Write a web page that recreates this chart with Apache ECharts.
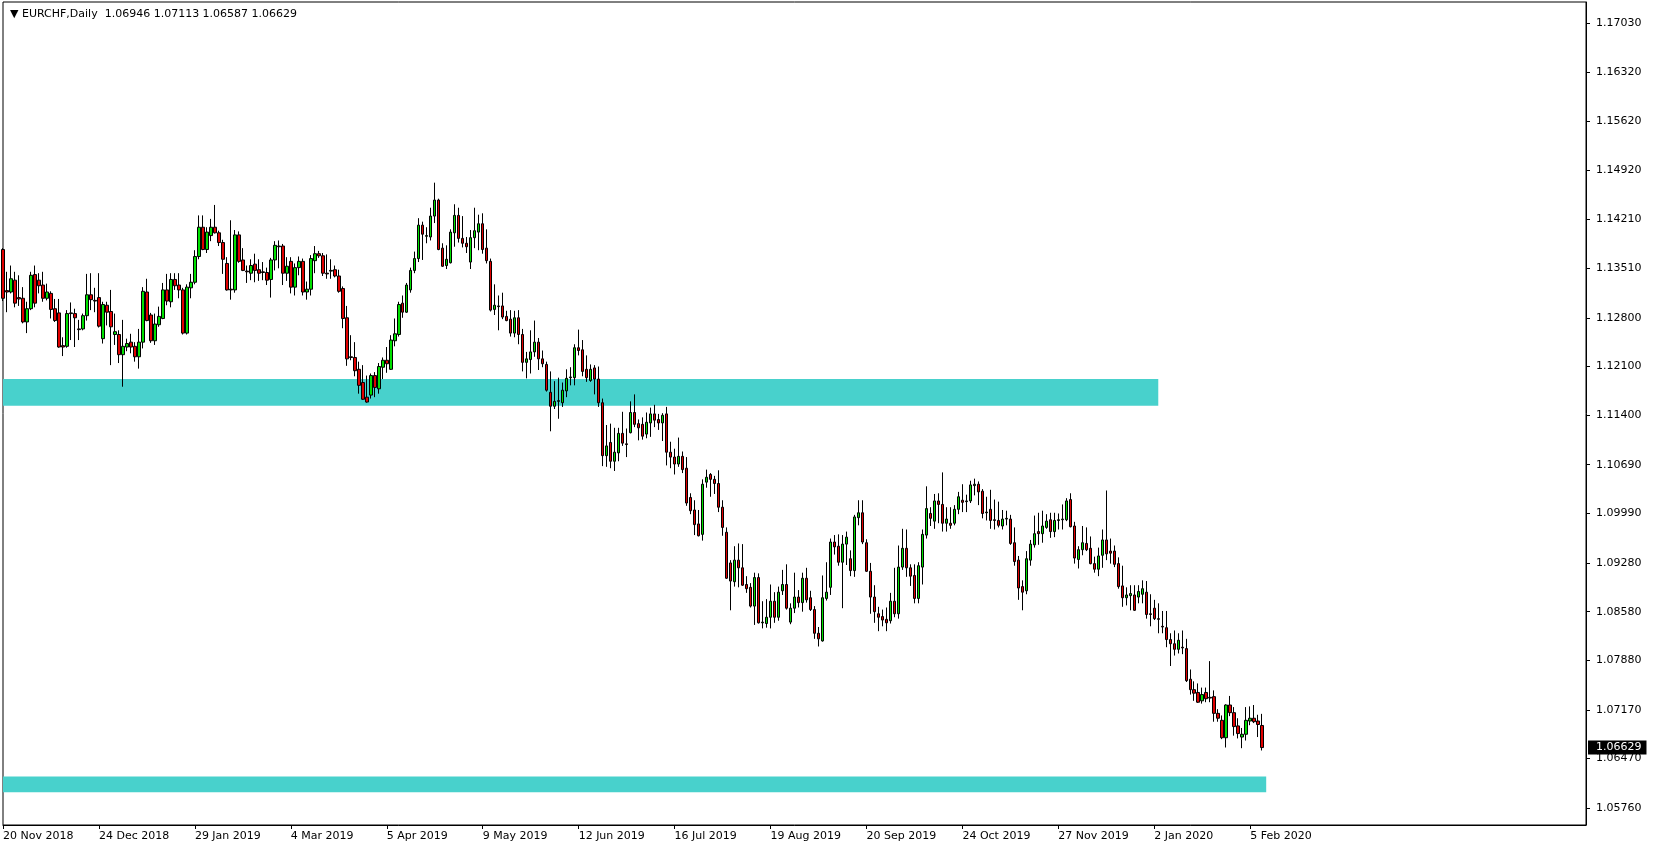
<!DOCTYPE html>
<html>
<head>
<meta charset="utf-8">
<script src="https://cdn.jsdelivr.net/npm/echarts@6/dist/echarts.min.js"></script>
<style>
  html, body { margin: 0; padding: 0; background: #fff; }
  #chart { width: 1654px; height: 850px; }
</style>
</head>
<body>
<div id="chart"></div>
<script>
const symbol = 'EURCHF,Daily'
const firstDate = '2018-11-20'
const holidays = ['2018-12-25', '2019-01-01', '2019-12-25', '2020-01-01']
const slotCount = 397 // bar slots across the window, empty ones on the right
const labelEvery = 24
const yMin = 1.05517
const yMax = 1.17334
const yTicks = [1.05760, 1.06470, 1.07170, 1.07880, 1.08580, 1.09280, 1.09990, 1.10690,
  1.11400, 1.12100, 1.12800, 1.13510, 1.14210, 1.14920, 1.15620, 1.16320, 1.17030]
// rectangles drawn on the chart: [low, high] and the day they stop
const zoneUpper = [1.11538, 1.11921]
const zoneUpperEnd = '2020-01-03'
const zoneLower = [1.05986, 1.06215]
const zoneLowerEnd = '2020-02-11'

// open, close, low, high
const ohlc = [
[1.1378,1.1308,1.1304,1.1380],[1.1319,1.1317,1.1288,1.1346],[1.1317,1.1336,1.1315,1.1355],[1.1334,1.1301,1.1295,1.1346],
[1.1309,1.1307,1.1297,1.1341],[1.1308,1.1274,1.1272,1.1324],[1.1274,1.1293,1.1258,1.1303],[1.1293,1.1341,1.1291,1.1346],
[1.1342,1.1301,1.1295,1.1355],[1.1334,1.1326,1.1315,1.1344],[1.1327,1.1308,1.1303,1.1346],[1.1308,1.1317,1.1305,1.1329],
[1.1315,1.1292,1.1279,1.1318],[1.1293,1.1276,1.1274,1.1307],[1.1287,1.1238,1.1237,1.1307],[1.1240,1.1238,1.1225,1.1252],
[1.1239,1.1286,1.1237,1.1291],[1.1286,1.1287,1.1248,1.1302],[1.1286,1.1280,1.1238,1.1293],[1.1264,1.1263,1.1248,1.1277],
[1.1264,1.1283,1.1262,1.1286],[1.1283,1.1313,1.1276,1.1343],[1.1313,1.1306,1.1291,1.1344],[1.1305,1.1304,1.1288,1.1323],
// 24 Dec 2018
[1.1309,1.1268,1.1266,1.1344],[1.1250,1.1299,1.1243,1.1303],[1.1298,1.1288,1.1269,1.1303],[1.1289,1.1267,1.1212,1.1320],
[1.1256,1.1260,1.1241,1.1286],[1.1256,1.1227,1.1215,1.1262],[1.1227,1.1239,1.1181,1.1277],[1.1238,1.1243,1.1232,1.1250],
[1.1245,1.1238,1.1229,1.1257],[1.1239,1.1224,1.1217,1.1245],[1.1224,1.1245,1.1207,1.1264],[1.1245,1.1318,1.1236,1.1324],
[1.1317,1.1276,1.1275,1.1336],[1.1284,1.1247,1.1244,1.1287],[1.1247,1.1271,1.1241,1.1286],[1.1270,1.1282,1.1267,1.1296],
[1.1279,1.1320,1.1278,1.1330],[1.1320,1.1304,1.1298,1.1343],[1.1303,1.1335,1.1295,1.1344],[1.1335,1.1326,1.1320,1.1344],
[1.1327,1.1320,1.1308,1.1344],[1.1320,1.1258,1.1256,1.1323],[1.1258,1.1324,1.1256,1.1328],[1.1323,1.1331,1.1308,1.1343],
// 29 Jan 2019
[1.1331,1.1368,1.1328,1.1377],[1.1368,1.1410,1.1364,1.1427],[1.1410,1.1378,1.1377,1.1427],[1.1378,1.1403,1.1373,1.1410],
[1.1398,1.1410,1.1390,1.1422],[1.1410,1.1402,1.1401,1.1442],[1.1402,1.1388,1.1383,1.1405],[1.1388,1.1364,1.1343,1.1392],
[1.1358,1.1320,1.1319,1.1367],[1.1321,1.1320,1.1306,1.1420],[1.1320,1.1399,1.1316,1.1406],[1.1399,1.1361,1.1359,1.1404],
[1.1363,1.1348,1.1347,1.1380],[1.1347,1.1346,1.1330,1.1355],[1.1344,1.1355,1.1334,1.1364],[1.1357,1.1348,1.1331,1.1372],
[1.1349,1.1344,1.1333,1.1364],[1.1346,1.1345,1.1334,1.1360],[1.1345,1.1334,1.1327,1.1352],[1.1335,1.1363,1.1309,1.1366],
[1.1363,1.1384,1.1348,1.1390],[1.1383,1.1382,1.1351,1.1391],[1.1383,1.1344,1.1327,1.1386],[1.1344,1.1354,1.1333,1.1367],
// 4 Mar 2019
[1.1361,1.1324,1.1315,1.1367],[1.1324,1.1352,1.1312,1.1358],[1.1352,1.1361,1.1341,1.1368],[1.1361,1.1317,1.1312,1.1365],
[1.1317,1.1321,1.1306,1.1332],[1.1321,1.1365,1.1312,1.1370],[1.1362,1.1372,1.1344,1.1383],[1.1372,1.1369,1.1366,1.1376],
[1.1369,1.1344,1.1340,1.1373],[1.1344,1.1343,1.1336,1.1371],[1.1347,1.1348,1.1336,1.1364],[1.1349,1.1340,1.1338,1.1355],
[1.1340,1.1318,1.1316,1.1349],[1.1322,1.1279,1.1265,1.1325],[1.1280,1.1221,1.1211,1.1297],[1.1224,1.1223,1.1219,1.1255],
[1.1223,1.1204,1.1196,1.1245],[1.1206,1.1183,1.1171,1.1217],[1.1187,1.1163,1.1162,1.1212],[1.1166,1.1159,1.1158,1.1197],
[1.1169,1.1197,1.1164,1.1200],[1.1197,1.1180,1.1166,1.1202],[1.1178,1.1210,1.1171,1.1215],[1.1209,1.1219,1.1192,1.1223],
// 5 Apr 2019
[1.1219,1.1214,1.1201,1.1238],[1.1206,1.1248,1.1205,1.1255],[1.1247,1.1257,1.1239,1.1279],[1.1256,1.1299,1.1253,1.1303],
[1.1301,1.1288,1.1280,1.1312],[1.1288,1.1327,1.1287,1.1330],[1.1320,1.1348,1.1316,1.1352],[1.1348,1.1365,1.1344,1.1375],
[1.1365,1.1413,1.1360,1.1423],[1.1413,1.1400,1.1363,1.1418],[1.1397,1.1398,1.1387,1.1410],[1.1396,1.1426,1.1391,1.1438],
[1.1426,1.1449,1.1416,1.1474],[1.1449,1.1378,1.1377,1.1451],[1.1380,1.1354,1.1353,1.1387],[1.1355,1.1364,1.1350,1.1384],
[1.1359,1.1403,1.1358,1.1407],[1.1402,1.1427,1.1382,1.1443],[1.1427,1.1394,1.1388,1.1438],[1.1394,1.1387,1.1381,1.1426],
[1.1387,1.1382,1.1373,1.1396],[1.1360,1.1395,1.1350,1.1406],[1.1395,1.1405,1.1380,1.1438],[1.1403,1.1415,1.1377,1.1428],
// 9 May 2019
[1.1415,1.1378,1.1372,1.1430],[1.1380,1.1362,1.1358,1.1407],[1.1361,1.1291,1.1289,1.1365],[1.1292,1.1298,1.1284,1.1328],
[1.1297,1.1296,1.1262,1.1312],[1.1297,1.1281,1.1278,1.1316],[1.1282,1.1276,1.1275,1.1290],[1.1278,1.1258,1.1253,1.1291],
[1.1258,1.1280,1.1252,1.1290],[1.1280,1.1256,1.1242,1.1291],[1.1256,1.1216,1.1203,1.1264],[1.1216,1.1221,1.1193,1.1231],
[1.1220,1.1231,1.1200,1.1262],[1.1231,1.1245,1.1224,1.1276],[1.1245,1.1221,1.1205,1.1251],[1.1221,1.1214,1.1209,1.1233],
[1.1213,1.1176,1.1174,1.1217],[1.1173,1.1153,1.1117,1.1203],[1.1153,1.1160,1.1149,1.1189],[1.1160,1.1161,1.1135,1.1194],
[1.1158,1.1176,1.1152,1.1187],[1.1175,1.1193,1.1166,1.1206],[1.1194,1.1195,1.1183,1.1209],[1.1194,1.1237,1.1183,1.1242],
// 12 Jun 2019
[1.1237,1.1233,1.1226,1.1263],[1.1234,1.1203,1.1196,1.1248],[1.1206,1.1194,1.1188,1.1226],[1.1190,1.1206,1.1188,1.1213],
[1.1208,1.1192,1.1170,1.1212],[1.1192,1.1158,1.1152,1.1210],[1.1158,1.1082,1.1067,1.1164],[1.1082,1.1096,1.1066,1.1126],
[1.1101,1.1074,1.1064,1.1128],[1.1074,1.1087,1.1060,1.1122],[1.1086,1.1114,1.1074,1.1122],[1.1114,1.1100,1.1096,1.1145],
[1.1099,1.1098,1.1080,1.1121],[1.1115,1.1144,1.1114,1.1160],[1.1144,1.1127,1.1123,1.1170],[1.1128,1.1122,1.1104,1.1134],
[1.1127,1.1110,1.1105,1.1137],[1.1113,1.1130,1.1107,1.1144],[1.1129,1.1142,1.1109,1.1151],[1.1142,1.1133,1.1123,1.1155],
[1.1134,1.1129,1.1119,1.1142],[1.1129,1.1140,1.1103,1.1143],[1.1142,1.1087,1.1068,1.1152],[1.1087,1.1080,1.1064,1.1102],
// 16 Jul 2019
[1.1080,1.1070,1.1055,1.1092],[1.1070,1.1081,1.1066,1.1108],[1.1081,1.1062,1.1057,1.1088],[1.1064,1.1014,1.1010,1.1080],
[1.1022,1.1003,1.0998,1.1028],[1.1004,1.0983,1.0968,1.1018],[1.0984,1.0967,1.0966,1.1004],[1.0969,1.1041,1.0960,1.1048],
[1.1044,1.1051,1.1036,1.1062],[1.1055,1.1048,1.1023,1.1057],[1.1048,1.1042,1.1027,1.1053],[1.1042,1.1008,1.1001,1.1061],
[1.1008,1.0979,1.0967,1.1018],[1.0972,1.0906,1.0905,1.0979],[1.0928,1.0902,1.0860,1.0932],[1.0901,1.0932,1.0894,1.0952],
[1.0932,1.0921,1.0893,1.0956],[1.0921,1.0896,1.0895,1.0955],[1.0897,1.0891,1.0885,1.0909],[1.0893,1.0866,1.0864,1.0899],
[1.0866,1.0907,1.0839,1.0914],[1.0907,1.0842,1.0841,1.0913],[1.0842,1.0843,1.0834,1.0873],[1.0841,1.0850,1.0835,1.0876],
// 19 Aug 2019
[1.0850,1.0873,1.0834,1.0897],[1.0873,1.0850,1.0842,1.0886],[1.0850,1.0886,1.0845,1.0894],[1.0888,1.0897,1.0882,1.0918],
[1.0897,1.0863,1.0861,1.0926],[1.0843,1.0863,1.0840,1.0870],[1.0863,1.0879,1.0856,1.0914],[1.0879,1.0871,1.0864,1.0889],
[1.0871,1.0906,1.0858,1.0914],[1.0906,1.0875,1.0871,1.0921],[1.0878,1.0861,1.0859,1.0888],[1.0861,1.0827,1.0819,1.0866],
[1.0827,1.0819,1.0808,1.0836],[1.0816,1.0878,1.0815,1.0910],[1.0877,1.0886,1.0874,1.0929],[1.0893,1.0958,1.0882,1.0963],
[1.0958,1.0951,1.0940,1.0968],[1.0952,1.0929,1.0924,1.0969],[1.0929,1.0955,1.0863,1.0968],[1.0955,1.0965,1.0925,1.0973],
[1.0934,1.0917,1.0909,1.0946],[1.0917,1.0994,1.0908,1.0997],[1.0993,1.1000,1.0982,1.1018],[1.1000,1.0958,1.0955,1.1018],
// 20 Sep 2019
[1.0957,1.0916,1.0915,1.0962],[1.0916,1.0879,1.0855,1.0928],[1.0879,1.0858,1.0842,1.0896],[1.0855,1.0850,1.0830,1.0865],
[1.0851,1.0846,1.0837,1.0861],[1.0847,1.0842,1.0830,1.0864],[1.0845,1.0873,1.0841,1.0885],[1.0873,1.0855,1.0850,1.0921],
[1.0855,1.0922,1.0848,1.0953],[1.0922,1.0949,1.0918,1.0977],[1.0949,1.0921,1.0908,1.0976],[1.0921,1.0909,1.0895,1.0926],
[1.0910,1.0877,1.0870,1.0926],[1.0877,1.0924,1.0870,1.0929],[1.0922,1.0969,1.0897,1.0976],[1.0968,1.1006,1.0963,1.1038],
[1.0999,1.0992,1.0981,1.1008],[1.0988,1.1017,1.0977,1.1027],[1.1017,1.1012,1.0985,1.1028],[1.1012,1.0985,1.0973,1.1058],
[1.0985,1.0991,1.0973,1.1008],[1.0985,1.0982,1.0977,1.1008],[1.0985,1.1005,1.0982,1.1011],[1.1005,1.1023,1.0998,1.1030],
// 24 Oct 2019
[1.1018,1.1015,1.1001,1.1041],[1.1016,1.1017,1.1001,1.1026],[1.1017,1.1040,1.1014,1.1046],[1.1039,1.1041,1.1025,1.1049],
[1.1041,1.1030,1.1011,1.1045],[1.1031,1.0999,1.0992,1.1034],[1.1000,1.1001,1.0989,1.1023],[1.1005,1.0989,1.0977,1.1033],
[1.0990,1.0989,1.0976,1.1019],[1.0989,1.0982,1.0979,1.1016],[1.0981,1.0991,1.0976,1.1004],[1.0991,1.0992,1.0982,1.1003],
[1.0991,1.0956,1.0954,1.0997],[1.0957,1.0930,1.0924,1.0979],[1.0932,1.0892,1.0875,1.0938],[1.0894,1.0886,1.0860,1.0903],
[1.0888,1.0934,1.0883,1.0945],[1.0932,1.0955,1.0924,1.0961],[1.0954,1.0970,1.0950,1.0996],[1.0973,1.0970,1.0954,1.1000],
[1.0970,1.0981,1.0957,1.1003],[1.0979,1.0988,1.0977,1.0998],[1.0990,1.0973,1.0964,1.1000],[1.0973,1.0989,1.0965,1.1000],
// 27 Nov 2019
[1.0989,1.0990,1.0976,1.0999],[1.0990,1.0991,1.0976,1.1012],[1.0990,1.1017,1.0988,1.1021],[1.1019,1.0980,1.0979,1.1028],
[1.0981,1.0935,1.0927,1.0987],[1.0933,1.0947,1.0920,1.0952],[1.0947,1.0957,1.0939,1.0981],[1.0956,1.0947,1.0945,1.0979],
[1.0949,1.0927,1.0926,1.0966],[1.0927,1.0919,1.0914,1.0937],[1.0919,1.0938,1.0909,1.0950],[1.0939,1.0961,1.0921,1.0976],
[1.0961,1.0941,1.0932,1.1032],[1.0945,1.0942,1.0927,1.0963],[1.0945,1.0926,1.0922,1.0953],[1.0927,1.0894,1.0891,1.0936],
[1.0895,1.0878,1.0865,1.0924],[1.0878,1.0882,1.0867,1.0893],[1.0881,1.0884,1.0860,1.0896],[1.0882,1.0860,1.0859,1.0896],
[1.0879,1.0887,1.0870,1.0896],[1.0883,1.0891,1.0870,1.0903],[1.0886,1.0854,1.0848,1.0902],[1.0855,1.0854,1.0837,1.0883],
// 2 Jan 2020
[1.0863,1.0848,1.0846,1.0875],[1.0848,1.0847,1.0827,1.0870],[1.0837,1.0836,1.0827,1.0859],[1.0835,1.0818,1.0807,1.0859],
[1.0818,1.0812,1.0780,1.0827],[1.0812,1.0804,1.0795,1.0831],[1.0804,1.0817,1.0798,1.0827],[1.0807,1.0806,1.0797,1.0831],
[1.0805,1.0759,1.0757,1.0819],[1.0761,1.0746,1.0739,1.0775],[1.0746,1.0741,1.0730,1.0758],[1.0742,1.0728,1.0727,1.0755],
[1.0730,1.0739,1.0726,1.0749],[1.0742,1.0733,1.0728,1.0749],[1.0735,1.0734,1.0728,1.0787],[1.0736,1.0712,1.0700,1.0745],
[1.0712,1.0705,1.0700,1.0718],[1.0702,1.0677,1.0675,1.0709],[1.0677,1.0724,1.0663,1.0725],[1.0724,1.0713,1.0708,1.0737],
[1.0713,1.0693,1.0680,1.0721],[1.0694,1.0683,1.0676,1.0705],[1.0678,1.0682,1.0662,1.0691],[1.0682,1.0702,1.0673,1.0721],
// 5 Feb 2020
[1.0701,1.0705,1.0695,1.0722],[1.0705,1.0700,1.0698,1.0724],[1.0701,1.0696,1.0678,1.0710],[1.06946,1.06629,1.06587,1.07113]
]

const font = 'DejaVu Sans'
const months = ['Jan','Feb','Mar','Apr','May','Jun','Jul','Aug','Sep','Oct','Nov','Dec']

function tradingDays(start, n) {
  const out = []
  const d = new Date(start + 'T00:00:00Z')
  while (out.length < n) {
    const iso = d.toISOString().slice(0, 10)
    const wd = d.getUTCDay()
    if (wd !== 0 && wd !== 6 && !holidays.includes(iso)) out.push(iso)
    d.setUTCDate(d.getUTCDate() + 1)
  }
  return out
}
function fmtDate(iso) {
  const [y, m, d] = iso.split('-')
  return +d + ' ' + months[+m - 1] + ' ' + y
}

const dates = tradingDays(firstDate, slotCount)
const last = ohlc[ohlc.length - 1]
const showLabel = (i) => i % labelEvery === 0 && i < ohlc.length
const p5 = (v) => v.toFixed(5)

const chart = echarts.init(document.getElementById('chart'))
chart.setOption({
  animation: false,
  backgroundColor: '#fff',
  title: {
    text: '▼ ' + symbol + '  ' + [last[0], last[3], last[2], last[1]].map(p5).join(' '),
    left: 5, top: 4,
    textStyle: { fontFamily: font, fontSize: 11, fontWeight: 'normal', color: '#000' }
  },
  grid: { left: 2, right: 68, top: 2, bottom: 25, show: true, borderColor: '#000', borderWidth: 1, backgroundColor: '#fff' },
  xAxis: {
    type: 'category', data: dates, boundaryGap: false,
    axisLine: { lineStyle: { color: '#000', width: 1 } },
    axisTick: { interval: showLabel, length: 4, lineStyle: { color: '#000' } },
    axisLabel: { interval: showLabel, formatter: fmtDate, align: 'left', color: '#000', fontFamily: font, fontSize: 11, margin: 6 },
    splitLine: { show: false }
  },
  yAxis: [
    {
      type: 'value', position: 'right', min: yMin, max: yMax,
      axisLine: { show: true, lineStyle: { color: '#000' } },
      axisTick: { show: true, customValues: yTicks, length: 4, lineStyle: { color: '#000' } },
      axisLabel: { customValues: yTicks, formatter: p5, color: '#000', fontFamily: font, fontSize: 11, margin: 10 },
      splitLine: { show: false }
    },
    {
      // last price tag on the price scale
      type: 'value', position: 'right', min: yMin, max: yMax, z: 10,
      axisLine: { show: false }, axisTick: { show: false }, splitLine: { show: false },
      axisLabel: {
        customValues: [last[1]], formatter: p5, margin: 2,
        backgroundColor: '#000', color: '#fff', fontFamily: font, fontSize: 11, padding: [2, 5, 1, 8]
      }
    }
  ],
  series: [
    {
      type: 'line', data: [], z: 1, silent: true,
      markArea: {
        silent: true,
        itemStyle: { color: '#48D1CC' },
        data: [
          [{ xAxis: dates[0], yAxis: zoneUpper[1] }, { xAxis: zoneUpperEnd, yAxis: zoneUpper[0] }],
          [{ xAxis: dates[0], yAxis: zoneLower[1] }, { xAxis: zoneLowerEnd, yAxis: zoneLower[0] }]
        ]
      }
    },
    {
      type: 'candlestick', data: ohlc, z: 2, barWidth: 3, clip: false,
      itemStyle: { color: '#00e000', color0: '#e00000', borderColor: '#000', borderColor0: '#000', borderWidth: 1 }
    }
  ]
})
</script>
</body>
</html>
